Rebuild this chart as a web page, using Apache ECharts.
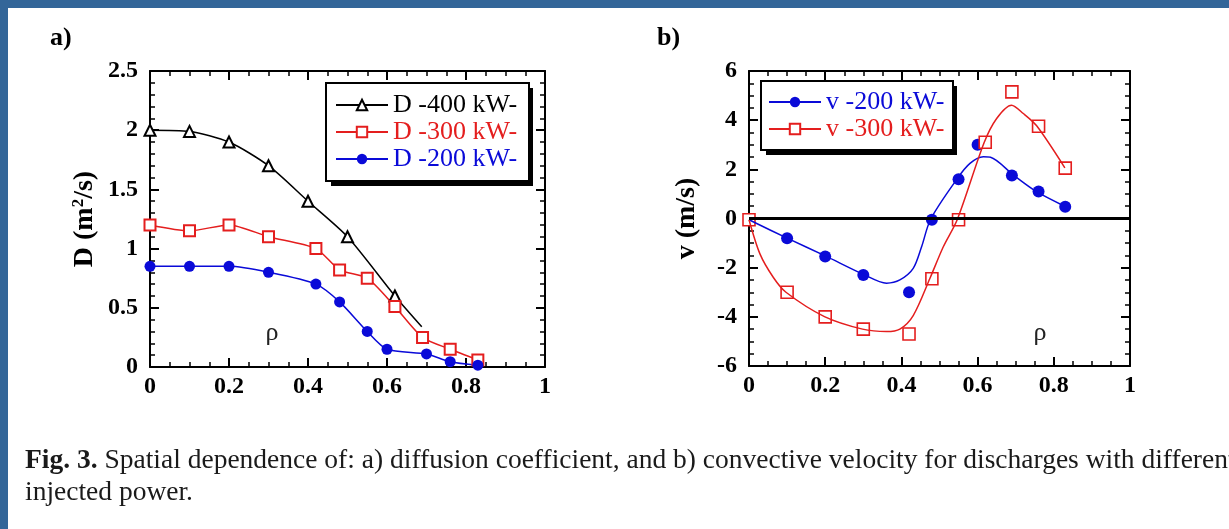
<!DOCTYPE html>
<html><head><meta charset="utf-8">
<script src="https://cdn.jsdelivr.net/npm/echarts@6/dist/echarts.min.js"></script>
<style>html,body{margin:0;padding:0;background:#fff;} #c{width:1229px;height:529px;}</style>
</head><body><div id="c"></div>
<script>
// ---------- data ----------
// a) diffusion coefficient D (m^2/s) vs rho
const rhoD400 = [0, 0.1, 0.2, 0.3, 0.4, 0.5, 0.62, 0.688];
const D400    = [2.0, 1.99, 1.9, 1.7, 1.4, 1.1, 0.6, 0.34];
const D400MarkerCount = 7; // last point is the end of the line only
const rhoD300 = [0, 0.1, 0.2, 0.3, 0.42, 0.48, 0.55, 0.62, 0.69, 0.76, 0.83];
const D300    = [1.2, 1.15, 1.2, 1.1, 1.0, 0.82, 0.75, 0.51, 0.25, 0.15, 0.06];
const rhoD200 = [0, 0.1, 0.2, 0.3, 0.42, 0.48, 0.55, 0.6, 0.7, 0.76, 0.83];
const D200    = [0.85, 0.85, 0.85, 0.8, 0.7, 0.55, 0.3, 0.15, 0.11, 0.045, 0.015];

// b) convective velocity v (m/s) vs rho : measured points
const rhoV200 = [0, 0.1, 0.2, 0.3, 0.42, 0.48, 0.55, 0.6, 0.69, 0.76, 0.83];
const V200    = [-0.05, -0.8, -1.55, -2.3, -3.0, -0.05, 1.6, 3.0, 1.75, 1.1, 0.48];
const rhoV300 = [0, 0.1, 0.2, 0.3, 0.42, 0.48, 0.55, 0.62, 0.69, 0.76, 0.83];
const V300    = [-0.05, -3.0, -4.0, -4.5, -4.7, -2.45, -0.05, 3.1, 5.15, 3.75, 2.05];
// b) fitted curves (traced from the picture)
const rhoV200Fit = [0, 0.1, 0.2, 0.3, 0.361, 0.396, 0.431, 0.453, 0.477, 0.547, 0.58, 0.615, 0.634, 0.694, 0.755, 0.827];
const V200Fit    = [-0.05, -0.8, -1.52, -2.27, -2.63, -2.5, -2.03, -1.15, -0.02, 1.63, 2.24, 2.51, 2.49, 1.77, 1.09, 0.51];
const rhoV300Fit = [0, 0.029, 0.064, 0.097, 0.198, 0.298, 0.361, 0.396, 0.431, 0.475, 0.51, 0.547, 0.617, 0.65, 0.689, 0.72, 0.755, 0.829];
const V300Fit    = [-0.05, -1.45, -2.4, -3.0, -3.99, -4.5, -4.6, -4.5, -3.95, -2.43, -1.15, -0.03, 3.08, 4.07, 4.61, 4.27, 3.77, 2.06];

// tick labels
const rhoTicks = [0, 0.2, 0.4, 0.6, 0.8, 1];
const DTicks   = [0, 0.5, 1, 1.5, 2, 2.5];
const VTicks   = [-6, -4, -2, 0, 2, 4, 6];

// ---------- style ----------
const SERIF = 'Liberation Serif';
const BLACK = '#000000', RED = '#e41e1e', BLUE = '#0a0ad8';

function pairs(xs, ys) { return xs.map((x, i) => [x, ys[i]]); }

function axis(ticks, opts) {
  const base = {
    type: 'value',
    min: ticks[0], max: ticks[ticks.length - 1], interval: ticks[1] - ticks[0],
    splitLine: { show: false },
    axisLine: { onZero: false, lineStyle: { color: BLACK, width: 2 } },
    axisTick: { inside: true, length: 9, lineStyle: { color: BLACK, width: 2 } },
    minorTick: { show: true, splitNumber: opts.minor, length: 5, lineStyle: { color: BLACK, width: 1.5 } },
    axisLabel: {
      show: !opts.mirror, color: BLACK, fontFamily: SERIF, fontWeight: 'bold', fontSize: 24,
      margin: opts.margin || 8
    }
  };
  return Object.assign(base, opts.extra || {});
}

// legend boxes (layout only)
const LEG1 = { left: 326, top: 83, pad: [9, 8, 9, 9], textW: 128, rows: 3 };
const LEG2 = { left: 761, top: 81, pad: [8, 8, 8, 7], textW: 119, rows: 2 };
const ICON_W = 52, ROW_H = 26, GAP = 1;
function legBox(L) {
  return {
    w: L.pad[3] + ICON_W + 5 + L.textW + L.pad[1],
    h: L.pad[0] + L.rows * ROW_H + (L.rows - 1) * GAP + L.pad[2]
  };
}
const B1 = legBox(LEG1), B2 = legBox(LEG2);

function legend(L, data) {
  return {
    left: L.left, top: L.top, orient: 'vertical', selectedMode: false, z: 10,
    itemWidth: ICON_W, itemHeight: 13, itemGap: GAP, padding: L.pad,
    backgroundColor: '#ffffff', borderColor: BLACK, borderWidth: 2, borderRadius: 0,
    textStyle: { fontFamily: SERIF, fontSize: 26, lineHeight: ROW_H, width: L.textW },
    data: data
  };
}

const option = {
  backgroundColor: '#ffffff',
  animation: false,
  grid: [
    { left: 150, top: 71, width: 395, height: 296 },
    { left: 749, top: 71, width: 381, height: 295 }
  ],
  xAxis: [
    axis(rhoTicks, { minor: 4, extra: { gridIndex: 0, position: 'bottom' } }),
    axis(rhoTicks, { minor: 4, mirror: true, extra: { gridIndex: 0, position: 'top' } }),
    axis(rhoTicks, { minor: 4, extra: { gridIndex: 1, position: 'bottom' } }),
    axis(rhoTicks, { minor: 4, mirror: true, extra: { gridIndex: 1, position: 'top' } })
  ],
  yAxis: [
    axis(DTicks, { minor: 5, margin: 12, extra: {
      gridIndex: 0, position: 'left',
      name: 'D (m{s|2}/s)', nameLocation: 'middle', nameGap: 50, nameRotate: 90,
      nameTextStyle: { color: BLACK, fontFamily: SERIF, fontWeight: 'bold', fontSize: 28, lineHeight: 30,
        rich: { s: { fontFamily: SERIF, fontWeight: 'bold', fontSize: 17, lineHeight: 17, verticalAlign: 'top' } } }
    } }),
    axis(DTicks, { minor: 5, mirror: true, extra: { gridIndex: 0, position: 'right' } }),
    axis(VTicks, { minor: 4, margin: 12, extra: {
      gridIndex: 1, position: 'left',
      name: 'v (m/s)', nameLocation: 'middle', nameGap: 48, nameRotate: 90,
      nameTextStyle: { color: BLACK, fontFamily: SERIF, fontWeight: 'bold', fontSize: 28 }
    } }),
    axis(VTicks, { minor: 4, mirror: true, extra: { gridIndex: 1, position: 'right' } })
  ],
  legend: [
    legend(LEG1, [
      { name: 'D -400 kW-', textStyle: { color: BLACK } },
      { name: 'D -300 kW-', textStyle: { color: RED } },
      { name: 'D -200 kW-', textStyle: { color: BLUE } }
    ]),
    legend(LEG2, [
      { name: 'v -200 kW-', textStyle: { color: BLUE } },
      { name: 'v -300 kW-', textStyle: { color: RED } }
    ])
  ],
  series: [
    {
      type: 'line', name: 'D -400 kW-', xAxisIndex: 0, yAxisIndex: 0,
      data: rhoD400.map((r, i) => i < D400MarkerCount ? [r, D400[i]] : { value: [r, D400[i]], symbol: 'none' }),
      symbol: 'emptyTriangle', symbolSize: 11, smooth: 0.25, color: BLACK,
      lineStyle: { color: BLACK, width: 1.5 }, itemStyle: { color: BLACK, borderWidth: 1.3 }
    },
    {
      type: 'line', name: 'D -300 kW-', xAxisIndex: 0, yAxisIndex: 0,
      data: pairs(rhoD300, D300),
      symbol: 'emptyRect', symbolSize: 11, smooth: 0.25, color: RED,
      lineStyle: { color: RED, width: 1.5 }, itemStyle: { color: RED, borderWidth: 1.5 }
    },
    {
      type: 'line', name: 'D -200 kW-', xAxisIndex: 0, yAxisIndex: 0,
      data: pairs(rhoD200, D200),
      symbol: 'circle', symbolSize: 11, smooth: 0.25, color: BLUE,
      lineStyle: { color: BLUE, width: 1.5 }, itemStyle: { color: BLUE }
    },
    {
      type: 'line', name: 'v -200 kW-', xAxisIndex: 2, yAxisIndex: 2,
      data: pairs(rhoV200Fit, V200Fit), showSymbol: false,
      symbol: 'circle', smooth: 0.3, color: BLUE,
      lineStyle: { color: BLUE, width: 1.5 }, itemStyle: { color: BLUE },
      markLine: {
        silent: true, symbol: ['none', 'none'], label: { show: false },
        lineStyle: { color: BLACK, width: 3, type: 'solid' },
        data: [{ yAxis: 0 }]
      }
    },
    {
      type: 'line', name: 'v -300 kW-', xAxisIndex: 2, yAxisIndex: 2,
      data: pairs(rhoV300Fit, V300Fit), showSymbol: false,
      symbol: 'emptyRect', smooth: 0.3, color: RED,
      lineStyle: { color: RED, width: 1.5 }, itemStyle: { color: RED }
    },
    {
      type: 'scatter', name: 'v200 points', xAxisIndex: 2, yAxisIndex: 2,
      data: pairs(rhoV200, V200), symbol: 'circle', symbolSize: 12,
      itemStyle: { color: BLUE, opacity: 1 }
    },
    {
      type: 'scatter', name: 'v300 points', xAxisIndex: 2, yAxisIndex: 2,
      data: pairs(rhoV300, V300), symbol: 'rect', symbolSize: 12,
      itemStyle: { color: '#ffffff', borderColor: RED, borderWidth: 1.6, opacity: 1 }
    }
  ],
  graphic: [
    { type: 'rect', left: 0, top: 0, shape: { width: 1229, height: 8 }, style: { fill: '#336699' }, silent: true },
    { type: 'rect', left: 0, top: 0, shape: { width: 8, height: 529 }, style: { fill: '#336699' }, silent: true },
    // legend drop shadows
    { type: 'rect', z: 1, shape: { x: LEG1.left + 5, y: LEG1.top + 5, width: B1.w, height: B1.h }, style: { fill: BLACK }, silent: true },
    { type: 'rect', z: 1, shape: { x: LEG2.left + 5, y: LEG2.top + 5, width: B2.w, height: B2.h }, style: { fill: BLACK }, silent: true },
    { type: 'text', x: 50, y: 38, style: { text: 'a)', fontFamily: SERIF, fontWeight: 'bold', fontSize: 26, fill: BLACK, verticalAlign: 'middle' } },
    { type: 'text', x: 657, y: 38, style: { text: 'b)', fontFamily: SERIF, fontWeight: 'bold', fontSize: 26, fill: BLACK, verticalAlign: 'middle' } },
    { type: 'text', x: 272, y: 333, style: { text: 'ρ', fontFamily: SERIF, fontSize: 26, fill: '#222', align: 'center', verticalAlign: 'middle' } },
    { type: 'text', x: 1040, y: 333, style: { text: 'ρ', fontFamily: SERIF, fontSize: 26, fill: '#222', align: 'center', verticalAlign: 'middle' } },
    { type: 'text', x: 25, y: 461, style: {
      text: '{b|Fig. 3.} Spatial dependence of: a) diffusion coefficient, and b) convective velocity for discharges with different',
      fontFamily: SERIF, fontSize: 27.5, fill: '#1a1a1a', verticalAlign: 'middle',
      rich: { b: { fontFamily: SERIF, fontSize: 27.5, fontWeight: 'bold', fill: '#1a1a1a' } }
    } },
    { type: 'text', x: 25, y: 493, style: { text: 'injected power.', fontFamily: SERIF, fontSize: 27.5, fill: '#1a1a1a', verticalAlign: 'middle' } }
  ]
};

const chart = echarts.init(document.getElementById('c'), null, { renderer: 'canvas' });
chart.setOption(option);
</script>
</body></html>
